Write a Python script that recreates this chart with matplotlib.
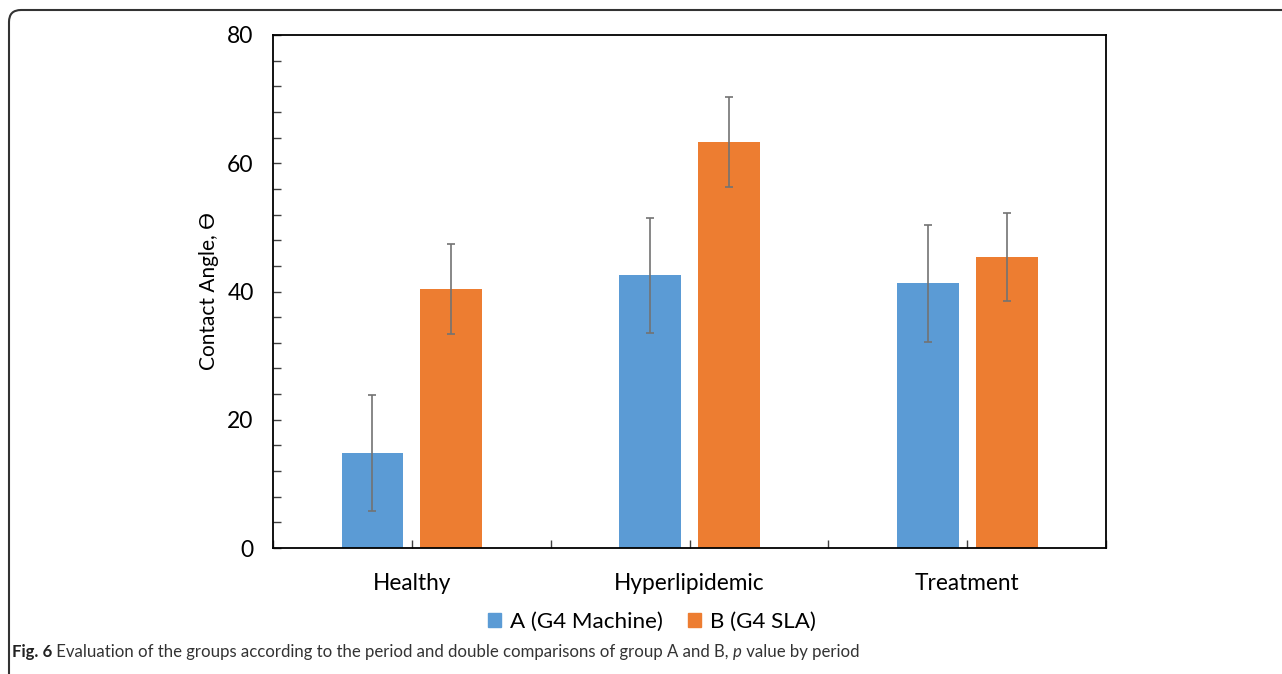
import matplotlib
matplotlib.use("Agg")
import matplotlib.pyplot as plt
import numpy as np
from matplotlib.patches import FancyBboxPatch, Patch
from matplotlib.transforms import IdentityTransform

# values
periods = ["Healthy", "Hyperlipidemic", "Treatment"]
group_a = [14.8, 42.5, 41.3]
group_a_err = [9.0, 9.0, 9.1]
group_b = [40.4, 63.3, 45.4]
group_b_err = [7.0, 7.0, 6.9]
labels = ["A (G4 Machine)", "B (G4 SLA)"]

BLUE = "#5B9BD5"
ORANGE = "#ED7D31"
ERRC = "#737373"

plt.rcParams['font.family'] = ['Lato', 'DejaVu Sans']

fig = plt.figure(figsize=(12.82, 6.74), dpi=100)
ax = fig.add_axes([0.2130, 0.1869, 0.8627 - 0.2130, 0.9481 - 0.1869])

x = np.arange(len(periods))
w = 0.223
off = 0.142
ekw = dict(ecolor=ERRC, elinewidth=1.2, capsize=3, capthick=1.2)
ax.bar(x - off, group_a, w, color=BLUE, yerr=group_a_err, error_kw=ekw, label=labels[0])
ax.bar(x + off, group_b, w, color=ORANGE, yerr=group_b_err, error_kw=ekw, label=labels[1])

ax.set_xlim(-0.5, len(periods) - 0.5)
ax.set_ylim(0, 80)
ax.set_yticks(np.arange(0, 81, 20))
ax.set_yticks(np.arange(0, 81, 4), minor=True)
ax.set_xticks(x)
ax.set_xticklabels(periods)
ax.set_xticks(np.arange(-0.5, len(periods), 1.0), minor=True)

ax.tick_params(axis='y', which='both', direction='in', length=6, width=1, color='#404040', labelsize=16.5, pad=14)
ax.tick_params(axis='x', which='both', direction='in', length=6, width=1, color='#404040', labelsize=16.3, pad=18)
for s in ax.spines.values():
    s.set_linewidth(1.3)
    s.set_color('black')

ax.set_ylabel("Contact Angle, \u03F4", fontsize=15, labelpad=6)

handles = [Patch(color=BLUE), Patch(color=ORANGE)]
fig.legend(handles, labels, loc='center', bbox_to_anchor=(652 / 1282, 1 - 622 / 674), ncol=2,
           frameon=False, fontsize=16.1, handlelength=0.6, handleheight=0.6,
           handletextpad=0.4, columnspacing=1.1)

# caption, drawn piece by piece so bold and italic parts sit on one line
renderer = fig.canvas.get_renderer()
cap_parts = [("Fig. 6", 'bold', 'normal', '#222222'),
             (" Evaluation of the groups according to the period and double comparisons of group A and B, ", 'normal', 'normal', '#333333'),
             ("p", 'normal', 'italic', '#333333'),
             (" value by period", 'normal', 'normal', '#333333')]
cx = 12
for txt, wt, st, c in cap_parts:
    t = fig.text(cx, 674 - 652, txt, transform=IdentityTransform(), fontsize=12.05,
                 weight=wt, style=st, color=c, va='center', ha='left')
    cx = t.get_window_extent(renderer).x1

# rounded outer frame, cut off at the right and bottom
frame = FancyBboxPatch((9, -60), 1400, 674 - 10 + 60, boxstyle="round,pad=0,rounding_size=12",
                       transform=IdentityTransform(), fill=False, edgecolor='#333333', linewidth=1.5)
fig.add_artist(frame)

fig.savefig("out.png", dpi=100)
